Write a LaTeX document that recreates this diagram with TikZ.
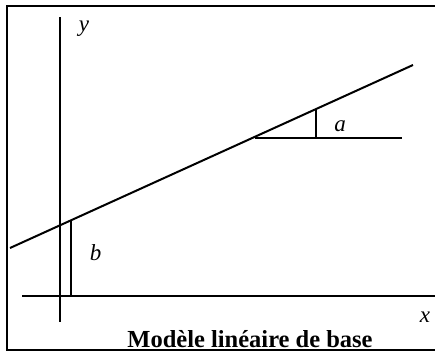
\documentclass[tikz,border=0pt]{standalone}
\usepackage{fontspec}
\setmainfont{Liberation Serif}
\usepackage{tikz}
\usetikzlibrary{positioning}

\begin{document}
\begin{tikzpicture}[x=1pt, y=-1pt, line width=2pt,
    lbl/.style={anchor=base, inner sep=0pt, font=\fontsize{23}{27}\selectfont\itshape}]
  \useasboundingbox (0,0) rectangle (435,351);
  % frame
  \draw (435,6) -- (7,6) -- (7,349.5) -- (435,349.5);
  % axes
  \coordinate (xs) at (22,296);
  \coordinate (xe) at (435,296);
  \coordinate (ys) at (60,17);
  \coordinate (ye) at (60,322);
  \draw (xs) -- (xe);
  \draw (ys) -- (ye);
  % regression line
  \coordinate (ls) at (10,248);
  \coordinate (le) at (413,65);
  \draw (ls) -- (le);
  % intercept b
  \coordinate (bt) at (71,221);
  \coordinate (bb) at (71,296);
  \draw (bt) -- (bb);
  % slope a
  \coordinate (as) at (255,137.5);
  \coordinate (ae) at (402,137.5);
  \coordinate (at) at (316,110);
  \coordinate (ab) at (316,137.5);
  \draw (as) -- (ae);
  \draw (at) -- (ab);
  % labels
  \node[lbl] (ylbl) at (84,31) {y};
  \node[lbl] (xlbl) at (425,322.5) {x};
  \node[lbl] (albl) at (340,131.5) {a};
  \node[lbl] (blbl) at (95.5,260.5) {b};
  \node[anchor=base, inner sep=0pt, font=\fontsize{24.5}{28}\selectfont\bfseries] (title) at (250,347) {Modèle linéaire de base};
\end{tikzpicture}
\end{document}
